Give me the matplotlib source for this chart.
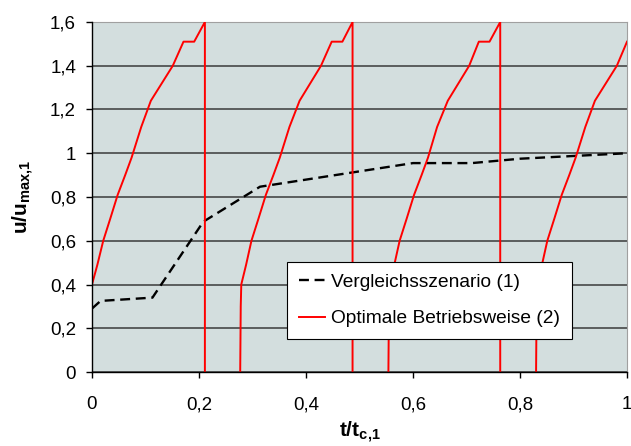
import numpy as np
import matplotlib
matplotlib.use("Agg")
import matplotlib.pyplot as plt
from matplotlib.ticker import FuncFormatter, MultipleLocator

plt.rcParams['font.family'] = ['Liberation Sans', 'DejaVu Sans']
plt.rcParams['mathtext.fontset'] = 'custom'
plt.rcParams['mathtext.rm'] = 'Liberation Sans'
plt.rcParams['mathtext.bf'] = 'Liberation Sans:bold'

# Vergleichsszenario (1): relative Leistung über relativer Zeit
vergleich_t = [0.0, 0.016, 0.113, 0.208, 0.314, 0.600, 0.710, 0.800, 1.0]
vergleich_u = [0.29, 0.325, 0.34, 0.687, 0.847, 0.955, 0.955, 0.975, 1.0]

# Optimale Betriebsweise (2): vier Zyklen, jeweils bis zur Reinigung
zyklus1_t = [0.0, 0.0, 0.010, 0.021, 0.034, 0.048, 0.062, 0.074, 0.092,
             0.110, 0.151, 0.171, 0.191, 0.211, 0.211]
zyklus1_u = [0.28, 0.40, 0.49, 0.60, 0.70, 0.81, 0.90, 0.98, 1.12,
             1.24, 1.40, 1.51, 1.51, 1.60, 0.0]

zyklus2_t = [0.277, 0.278, 0.279, 0.288, 0.298, 0.311, 0.325, 0.339, 0.351,
             0.369, 0.388, 0.428, 0.448, 0.468, 0.487, 0.487]
zyklus2_u = [0.0, 0.30, 0.40, 0.49, 0.60, 0.70, 0.81, 0.90, 0.98,
             1.12, 1.24, 1.40, 1.51, 1.51, 1.60, 0.0]

zyklus3_t = [0.554, 0.555, 0.556, 0.565, 0.575, 0.588, 0.602, 0.616, 0.628,
             0.645, 0.665, 0.705, 0.723, 0.743, 0.763, 0.763]
zyklus3_u = [0.0, 0.30, 0.40, 0.49, 0.60, 0.70, 0.81, 0.90, 0.98,
             1.12, 1.24, 1.40, 1.51, 1.51, 1.60, 0.0]

zyklus4_t = [0.830, 0.831, 0.832, 0.841, 0.851, 0.864, 0.878, 0.892, 0.904,
             0.922, 0.940, 0.981, 1.0]
zyklus4_u = [0.0, 0.30, 0.40, 0.49, 0.60, 0.70, 0.81, 0.90, 0.98,
             1.12, 1.24, 1.40, 1.51]

zyklen = [(zyklus1_t, zyklus1_u), (zyklus2_t, zyklus2_u),
          (zyklus3_t, zyklus3_u), (zyklus4_t, zyklus4_u)]


def dezimal_komma(v, pos):
    if abs(v - round(v)) < 1e-9:
        return f"{int(round(v))}"
    return f"{v:.1f}".replace('.', ',')


fig = plt.figure(figsize=(6.31, 4.46), dpi=100)
ax = fig.add_axes([0.1458, 0.1659, 0.8479, 0.7848])
ax.set_facecolor('#D3DEDE')

ax.set_xlim(0, 1)
ax.set_ylim(0, 1.6)
ax.xaxis.set_major_locator(MultipleLocator(0.2))
ax.yaxis.set_major_locator(MultipleLocator(0.2))
ax.xaxis.set_major_formatter(FuncFormatter(dezimal_komma))
ax.yaxis.set_major_formatter(FuncFormatter(dezimal_komma))

ax.grid(axis='y', color='#3A3A3A', linewidth=1.1, zorder=1)
ax.set_axisbelow(True)

ax.plot(vergleich_t, vergleich_u, color='black', linewidth=1.7,
        dashes=(4.2, 2.4), label='Vergleichsszenario (1)', zorder=3)
for i, (t, u) in enumerate(zyklen):
    ax.plot(t, u, color='#FF0000', linewidth=1.4, zorder=3,
            label='Optimale Betriebsweise (2)' if i == 0 else None)

for side in ('top', 'right'):
    ax.spines[side].set_color('#A0A0A0')
for side in ('left', 'bottom'):
    ax.spines[side].set_color('black')
    ax.spines[side].set_linewidth(1.0)
    ax.spines[side].set_zorder(4)

ax.tick_params(axis='both', direction='out', length=4.5, width=1.0,
               colors='black', labelsize=13.5)
ax.tick_params(axis='x', pad=13)
ax.tick_params(axis='y', pad=7)

ax.set_xlabel(r'$\mathbf{t/t_{c{,}1}}$', fontsize=15, labelpad=5)
ax.set_ylabel(r'$\mathbf{u/u_{max{,}1}}$', fontsize=15, labelpad=10)

leg = ax.legend(loc='upper left', bbox_to_anchor=(0.3645, 0.315),
                borderaxespad=0, fontsize=13.8, frameon=True, fancybox=False,
                framealpha=1, edgecolor='black', handlelength=1.4,
                handletextpad=0.3, labelspacing=1.0, borderpad=0.6)
leg.get_frame().set_linewidth(0.8)
leg.set_zorder(5)

fig.savefig('out.png', dpi=100)
